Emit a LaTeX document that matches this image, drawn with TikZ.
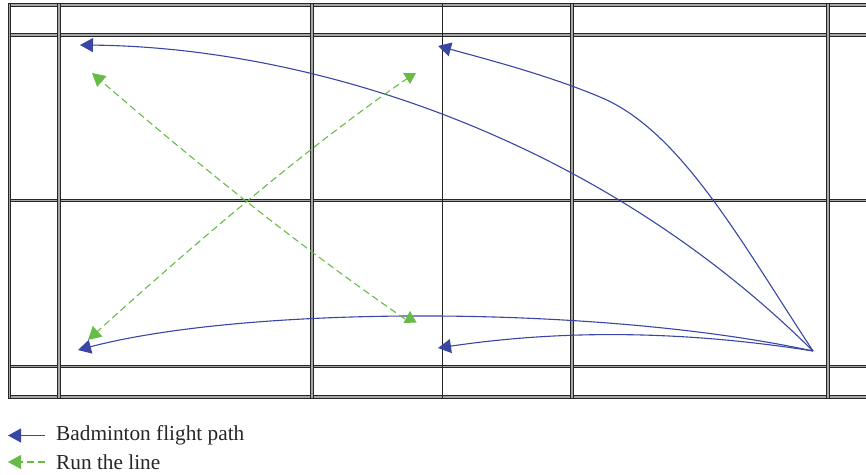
\documentclass[tikz,border=0pt]{standalone}
\usepackage{fontspec}
\setmainfont{Liberation Serif}
\usetikzlibrary{arrows.meta, positioning}
\definecolor{clr1}{HTML}{3A46A3}
\definecolor{clr2}{HTML}{66BC46}

\begin{document}
\begin{tikzpicture}[
            x=1pt, y=-1pt,
            court line/.style={line width=1pt, black!85, double=black!35, double distance=1.3pt},
            thin line/.style={line width=1.4pt, black!85},
            flight line/.style={line width=1.1pt, clr1, -{Triangle[length=13pt, width=14pt]}},
            run line/.style={line width=1.1pt, clr2, dash pattern=on 7pt off 4pt, -{Triangle[length=13pt, width=14pt]}},
            run tip/.style={fill=clr2},
            legend entry/.style={font=\fontsize{21.3}{24}\selectfont, text=black!85, anchor=west, inner sep=0pt},
        ]
        \useasboundingbox (0,0) rectangle (866,474);

        % Court lines
        \foreach \y in {5, 35, 200.5, 366.5, 397} {
            \draw[court line] (8,\y) -- (866,\y);
        }
        \foreach \x in {9.5, 59, 312, 572, 828} {
            \draw[court line] (\x,4) -- (\x,398);
        }
        \draw[thin line] (442.5,4) -- (442.5,398);

        % Flight paths
        \coordinate (serve) at (813,351);
        \coordinate (backleft) at (80,45);
        \coordinate (backmid) at (438,46);
        \coordinate (frontleft) at (78,350);
        \coordinate (frontmid) at (438,348);
        \draw[flight line] (serve) .. controls (590,130) and (300,47) .. (backleft);
        \draw[flight line] (serve) .. controls (740,240) and (680,130) .. (600,97) .. controls (550,76) and (490,60) .. (backmid);
        \draw[flight line] (serve) .. controls (600,305) and (250,305) .. (frontleft);
        \draw[flight line] (serve) .. controls (680,330) and (560,330) .. (frontmid);

        % Running lines
        \coordinate (runa) at (92,73);
        \coordinate (runb) at (405,319);
        \coordinate (runc) at (408,78);
        \coordinate (rund) at (88,340);
        \draw[run line] (runb) .. controls (295,243) and (195,162) .. (runa);
        \draw[run line] (runc) .. controls (310,145) and (195,243) .. (rund);
        \fill[run tip] (403,73) -- (416,73) -- (410,84) -- cycle;
        \fill[run tip] (410,311) -- (403.5,323) -- (416.5,322.5) -- cycle;

        % Legend
        \coordinate (flighta) at (45,435.5);
        \coordinate (flightb) at (8,435.5);
        \coordinate (runlega) at (45,462);
        \coordinate (runlegb) at (8,462);
        \draw[flight line] (flighta) -- (flightb);
        \draw[run line] (runlega) -- (runlegb);
        \node[legend entry] (flightlabel) at (56,435) {Badminton flight path};
        \node[legend entry] (runlabel) at (56,462) {Run the line};
\end{tikzpicture}
\end{document}
